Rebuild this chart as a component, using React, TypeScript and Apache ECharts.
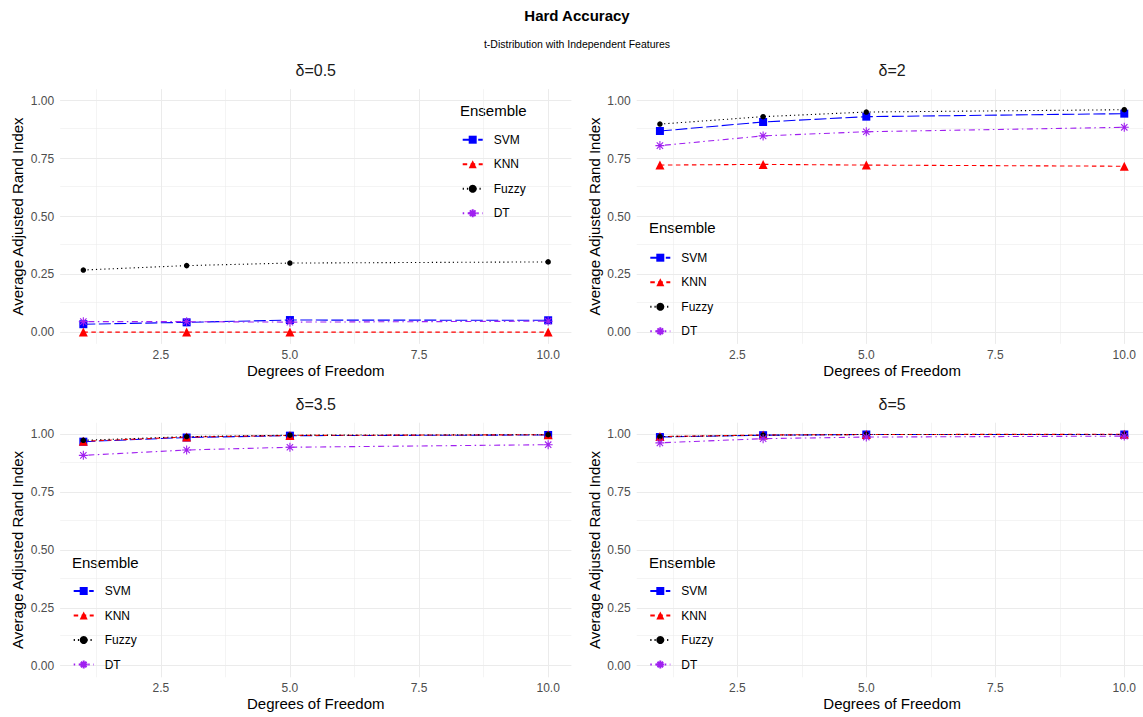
import React, { useEffect, useRef } from 'react';
import * as echarts from 'echarts';

// ---- data ----
const dof = [1, 3, 5, 10];
const panelTitles = ['δ=0.5', 'δ=2', 'δ=3.5', 'δ=5'];
const methods = ['SVM', 'KNN', 'Fuzzy', 'DT'];

const svmValues = [
  [0.035, 0.043, 0.053, 0.052],
  [0.869, 0.908, 0.931, 0.944],
  [0.968, 0.986, 0.994, 0.997],
  [0.988, 0.996, 0.999, 0.999],
];
const knnValues = [
  [0.001, 0.001, 0.001, 0.001],
  [0.722, 0.725, 0.722, 0.717],
  [0.970, 0.988, 0.995, 0.998],
  [0.990, 0.997, 0.999, 1.0],
];
const fuzzyValues = [
  [0.269, 0.288, 0.299, 0.304],
  [0.899, 0.931, 0.951, 0.961],
  [0.974, 0.990, 0.996, 0.998],
  [0.990, 0.996, 0.999, 0.999],
];
const dtValues = [
  [0.046, 0.046, 0.044, 0.048],
  [0.806, 0.848, 0.866, 0.885],
  [0.909, 0.932, 0.944, 0.955],
  [0.963, 0.981, 0.988, 0.992],
];

const xTicks = [2.5, 5, 7.5, 10];
const xMinorTicks = [1.25, 3.75, 6.25, 8.75];
const yTicks = [0, 0.25, 0.5, 0.75, 1];
const yMinorTicks = [0.125, 0.375, 0.625, 0.875];

// ---- layout / style ----
const FONT = '"Liberation Sans", Arial, Helvetica, sans-serif';
const grids = [
  { left: 60.1, top: 89.1, width: 511.3, height: 254.8 },
  { left: 636.7, top: 89.1, width: 510.8, height: 254.8 },
  { left: 60.1, top: 422.7, width: 511.3, height: 254.6 },
  { left: 636.7, top: 422.7, width: 510.8, height: 254.6 },
];
const legendPos = [
  { left: 461.7, top: 132.7 },
  { left: 649.3, top: 250.7 },
  { left: 72.7, top: 584 },
  { left: 649.3, top: 584 },
];
const legendTitlePos = [
  { x: 460, y: 110.7 },
  { x: 649, y: 227.7 },
  { x: 72, y: 562.3 },
  { x: 649, y: 562.3 },
];

const ASTERISK = 'path://M5,0L5,10M0,5L10,5M1.46,1.46L8.54,8.54M1.46,8.54L8.54,1.46';

const methodStyle: Record<string, any> = {
  SVM: { color: '#0000FF', symbol: 'rect', size: 8, dash: [12, 3.5] },
  KNN: { color: '#FF0000', symbol: 'triangle', size: 9, dash: [4.5, 3.5] },
  Fuzzy: { color: '#000000', symbol: 'circle', size: 5.5, dash: [1.2, 3] },
  DT: { color: '#A020F0', symbol: ASTERISK, size: 9, dash: [1.5, 3.5, 6, 3.5] },
};

export default function App() {
  const ref = useRef<HTMLDivElement>(null);

  useEffect(() => {
    if (!ref.current) return;
    const chart = echarts.init(ref.current, undefined, { renderer: 'svg' });

    const valuesByMethod: Record<string, number[][]> = {
      SVM: svmValues,
      KNN: knnValues,
      Fuzzy: fuzzyValues,
      DT: dtValues,
    };

    const xAxis: any[] = [];
    const yAxis: any[] = [];
    const series: any[] = [];
    const legend: any[] = [];
    const graphic: any[] = [];

    grids.forEach((g, i) => {
      xAxis.push({
        type: 'value',
        gridIndex: i,
        min: 0.55,
        max: 10.45,
        axisLine: { show: false },
        axisTick: { show: false, customValues: xTicks },
        splitLine: { show: false },
        axisLabel: {
          customValues: xTicks,
          formatter: (v: number) => v.toFixed(1),
          color: '#4D4D4D',
          fontSize: 12,
          fontFamily: FONT,
          margin: 5,
        },
        name: 'Degrees of Freedom',
        nameLocation: 'middle',
        nameGap: 19,
        nameTextStyle: { color: '#000', fontSize: 15, fontFamily: FONT },
      });
      yAxis.push({
        type: 'value',
        gridIndex: i,
        min: -0.05,
        max: 1.05,
        axisLine: { show: false },
        axisTick: { show: false, customValues: yTicks },
        splitLine: { show: false },
        axisLabel: {
          customValues: yTicks,
          formatter: (v: number) => v.toFixed(2),
          color: '#4D4D4D',
          fontSize: 12,
          fontFamily: FONT,
          margin: 6,
        },
        name: 'Average Adjusted Rand Index',
        nameLocation: 'middle',
        nameGap: 35,
        nameTextStyle: { color: '#000', fontSize: 15, fontFamily: FONT },
      });

      // gridlines drawn through the axes' scales
      const gridLineData: any[] = [];
      xTicks.forEach((v) => gridLineData.push({ xAxis: v, lineStyle: { width: 1.07 } }));
      xMinorTicks.forEach((v) => gridLineData.push({ xAxis: v, lineStyle: { width: 0.55 } }));
      yTicks.forEach((v) => gridLineData.push({ yAxis: v, lineStyle: { width: 1.07 } }));
      yMinorTicks.forEach((v) => gridLineData.push({ yAxis: v, lineStyle: { width: 0.55 } }));
      series.push({
        type: 'line',
        name: '__grid' + i,
        xAxisIndex: i,
        yAxisIndex: i,
        data: [],
        z: 0,
        silent: true,
        markLine: {
          silent: true,
          symbol: ['none', 'none'],
          label: { show: false },
          z: 0,
          animation: false,
          lineStyle: { type: 'solid', color: '#EBEBEB' },
          emphasis: { disabled: true },
          data: gridLineData,
        },
      });

      methods.forEach((m) => {
        const st = methodStyle[m];
        series.push({
          type: 'line',
          name: m,
          xAxisIndex: i,
          yAxisIndex: i,
          data: dof.map((d, k) => [d, valuesByMethod[m][i][k]]),
          symbol: st.symbol,
          symbolSize: st.size,
          showSymbol: true,
          z: 2,
          itemStyle: {
            color: st.color,
            borderColor: st.color,
            borderWidth: m === 'DT' ? 1.1 : 0,
          },
          lineStyle: { color: st.color, width: 1.1, type: st.dash },
          emphasis: { disabled: true },
        });
      });

      legend.push({
        data: methods,
        orient: 'vertical',
        left: legendPos[i].left,
        top: legendPos[i].top,
        itemWidth: 20,
        itemHeight: 10,
        itemGap: 10.5,
        padding: 0,
        selectedMode: false,
        textStyle: {
          color: '#000',
          fontSize: 12,
          fontFamily: FONT,
          lineHeight: 14,
          padding: [0, 0, 0, 6],
        },
      });

      graphic.push({
        type: 'text',
        x: legendTitlePos[i].x,
        y: legendTitlePos[i].y,
        style: {
          text: 'Ensemble',
          fill: '#000',
          font: `15px ${FONT}`,
          textAlign: 'left',
          textVerticalAlign: 'middle',
        },
      });

      graphic.push({
        type: 'text',
        x: g.left + g.width / 2,
        y: g.top - 18.5,
        style: {
          text: panelTitles[i],
          fill: '#1A1A1A',
          font: `16px ${FONT}`,
          textAlign: 'center',
          textVerticalAlign: 'middle',
        },
      });
    });

    graphic.push({
      type: 'text',
      x: 577,
      y: 15.5,
      style: {
        text: 'Hard Accuracy',
        fill: '#000',
        font: `bold 15px ${FONT}`,
        textAlign: 'center',
        textVerticalAlign: 'middle',
      },
    });
    graphic.push({
      type: 'text',
      x: 577,
      y: 44,
      style: {
        text: 't-Distribution with Independent Features',
        fill: '#000',
        font: `10.5px ${FONT}`,
        textAlign: 'center',
        textVerticalAlign: 'middle',
      },
    });

    chart.setOption({
      animation: false,
      backgroundColor: '#FFFFFF',
      grid: grids.map((g) => ({
        left: g.left,
        top: g.top,
        width: g.width,
        height: g.height,
        containLabel: false,
        outerBoundsMode: 'none',
      })),
      xAxis,
      yAxis,
      legend,
      series,
      graphic,
    });

    return () => chart.dispose();
  }, []);

  return (
    <div
      ref={ref}
      style={{ position: 'absolute', left: 0, top: 0, width: 1143, height: 717 }}
    />
  );
}
